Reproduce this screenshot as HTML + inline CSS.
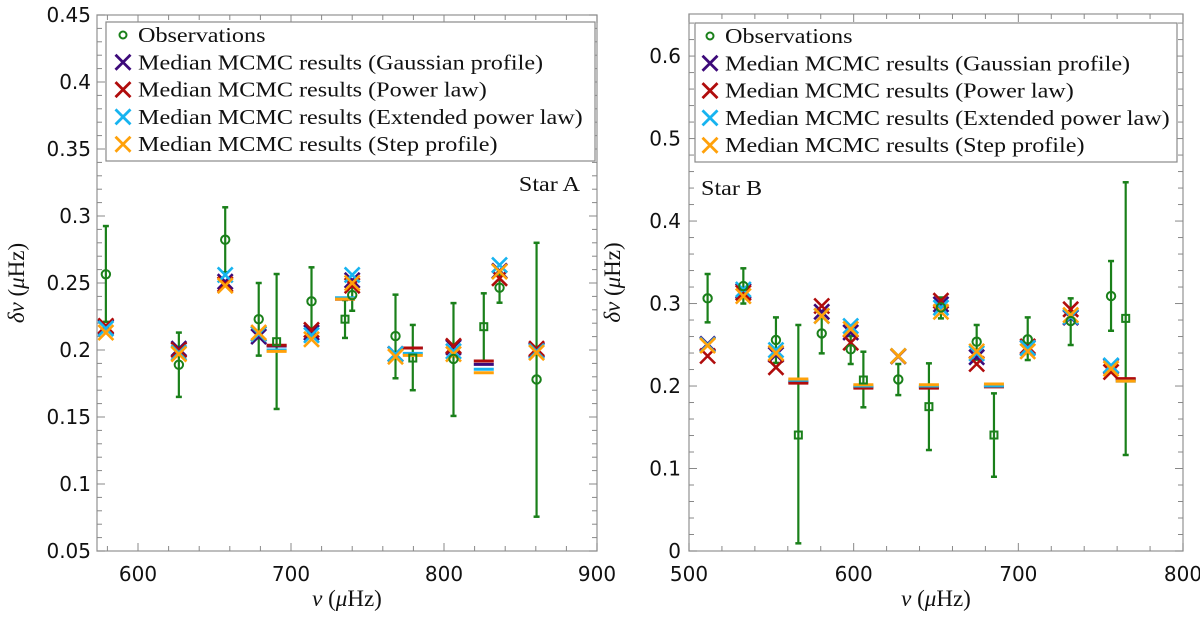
<!DOCTYPE html>
<html><head><meta charset="utf-8"><style>
html,body{margin:0;padding:0;background:#fff;}
svg{display:block;}
</style></head><body>
<svg id="chart" width="1200" height="617" xmlns="http://www.w3.org/2000/svg"></svg>
<script>
// ---------- Star A data ----------
const aObsX=[579,626.7,657,678.9,713.4,740,768.3,806.2,836.3,860.5];
const aObsY=[0.2565,0.189,0.2823,0.223,0.2363,0.241,0.2104,0.1933,0.2465,0.178];
const aObsHi=[0.2925,0.213,0.3065,0.250,0.2617,0.2517,0.2413,0.235,0.258,0.280];
const aObsLo=[0.221,0.165,0.258,0.1958,0.210,0.2293,0.1789,0.1508,0.2353,0.0756];
const aGauss=[0.217,0.201,0.251,0.210,0.213,0.252,0.197,0.202,0.259,0.200];
const aPower=[0.218,0.200,0.249,0.212,0.215,0.248,0.197,0.203,0.2535,0.201];
const aExt=[0.216,0.198,0.256,0.212,0.211,0.256,0.197,0.199,0.2634,0.199];
const aStep=[0.213,0.197,0.248,0.213,0.208,0.250,0.195,0.197,0.2585,0.198];
const aSqX=[690.6,735.3,779.6,826];
const aSqY=[0.2062,0.223,0.194,0.2174];
const aSqHi=[0.2567,0.2373,0.2187,0.2423];
const aSqLo=[0.156,0.209,0.170,0.192];
const aSqGauss=[0.203,0.238,0.2015,0.1893];
const aSqPower=[0.2035,0.238,0.2015,0.1918];
const aSqExt=[0.200,0.239,0.1975,0.1856];
const aSqStep=[0.199,0.238,0.196,0.183];
const aXTicks=[600,700,800,900];
const aYTicks=[0.05,0.1,0.15,0.2,0.25,0.3,0.35,0.4,0.45];
// ---------- Star B data ----------
const bObsX=[511.3,533,552.8,580.6,598.2,627.1,653,674.7,705.7,731.8,756.3];
const bObsY=[0.3063,0.3212,0.2558,0.2638,0.2445,0.208,0.2953,0.2537,0.2566,0.2788,0.309];
const bObsHi=[0.3358,0.3427,0.2832,0.29,0.2606,0.2267,0.3073,0.274,0.2832,0.3063,0.3515];
const bObsLo=[0.2772,0.300,0.228,0.2396,0.2267,0.189,0.282,0.232,0.2315,0.2497,0.267];
const bGauss=[0.251,0.315,0.238,0.290,0.265,0.236,0.299,0.235,0.246,0.283,0.224];
const bPower=[0.2364,0.313,0.2227,0.297,0.2525,0.236,0.3034,0.2267,0.248,0.293,0.217];
const bExt=[0.250,0.317,0.2436,0.285,0.2727,0.2364,0.295,0.2396,0.246,0.284,0.225];
const bStep=[0.249,0.309,0.240,0.285,0.269,0.2364,0.290,0.242,0.242,0.286,0.221];
const bSqX=[566.4,605.9,645.7,685.2,765.2];
const bSqY=[0.1406,0.2073,0.175,0.1406,0.282];
const bSqHi=[0.274,0.2416,0.2275,0.1911,0.447];
const bSqLo=[0.0093,0.1742,0.1224,0.090,0.1164];
const bSqGauss=[0.205,0.199,0.1985,0.200,0.208];
const bSqPower=[0.2035,0.1975,0.1975,0.199,0.209];
const bSqExt=[0.207,0.200,0.200,0.200,0.206];
const bSqStep=[0.2085,0.2015,0.2015,0.2025,0.206];
const bXTicks=[500,600,700,800];
const bYTicks=[0,0.1,0.2,0.3,0.4,0.5,0.6];

const NS='http://www.w3.org/2000/svg';
const svg=document.getElementById('chart');
function mk(tag,attrs,parent){const e=document.createElementNS(NS,tag);for(const k in attrs)e.setAttribute(k,attrs[k]);(parent||svg).appendChild(e);return e;}
const C={obs:'#1a801a',g:'#3d0a7a',p:'#b00c0c',e:'#17b4f0',s:'#ffa10a'};
const WIDEN=1.15;
function widen(t){try{const w=t.getComputedTextLength();if(w>0){t.setAttribute('textLength',(w*WIDEN).toFixed(1));t.setAttribute('lengthAdjust','spacingAndGlyphs');}}catch(e){}}

function panel(cfg){
  const g=mk('g',{});
  
  
  const sx=v=>cfg.x0+(v-cfg.xmin)/(cfg.xmax-cfg.xmin)*(cfg.x1-cfg.x0);
  const sy=v=>cfg.y1-(v-cfg.ymin)/(cfg.ymax-cfg.ymin)*(cfg.y1-cfg.y0);
  const fr=mk('rect',{x:cfg.x0,y:cfg.y0,width:cfg.x1-cfg.x0,height:cfg.y1-cfg.y0,fill:'none',stroke:'#9a9a9a','stroke-width':1.3},g);
  
  
  for(let v=Math.ceil(cfg.xmin/20)*20;v<=cfg.xmax+0.01;v+=20){
    const X=sx(v),len=(v%100===0)?8:5;
    mk('line',{x1:X,x2:X,y1:cfg.y1,y2:cfg.y1-len,stroke:'#888','stroke-width':1},g);
    mk('line',{x1:X,x2:X,y1:cfg.y0,y2:cfg.y0+len,stroke:'#888','stroke-width':1},g);
  }
  const nMinor=Math.round((cfg.ymax-cfg.ymin)/cfg.yminor);
  for(let i=0;i<=nMinor+1;i++){
    const v=cfg.ymin+i*cfg.yminor; if(v>cfg.ymax+1e-9)break;
    const r=Math.abs(v/cfg.ymajor-Math.round(v/cfg.ymajor))<1e-6;
    const Y=sy(v),len=r?8:5;
    mk('line',{x1:cfg.x0,x2:cfg.x0+len,y1:Y,y2:Y,stroke:'#888','stroke-width':1},g);
    mk('line',{x1:cfg.x1,x2:cfg.x1-len,y1:Y,y2:Y,stroke:'#888','stroke-width':1},g);
  }
  cfg.xticks.forEach(v=>{
    const t=mk('text',{x:sx(v),y:cfg.y1+30,'text-anchor':'middle','font-family':'DejaVu Sans, Liberation Sans, sans-serif','font-size':20,fill:'#111'},g);
    t.textContent=v;
    
    
  });
  cfg.yticks.forEach(v=>{
    const t=mk('text',{x:cfg.ylabX,y:sy(v)+7,'text-anchor':'end','font-family':'DejaVu Sans, Liberation Sans, sans-serif','font-size':20,fill:'#111'},g);
    t.textContent=String(v);
    
    
  });
  const xt=mk('text',{x:(cfg.x0+cfg.x1)/2,y:606,'text-anchor':'middle','font-family':'Liberation Serif, serif','font-size':23,fill:'#111'},g);
  xt.innerHTML='<tspan font-style="italic">ν</tspan> (<tspan font-style="italic">μ</tspan>Hz)';
  
  
  const yt=mk('text',{x:0,y:0,transform:`translate(${cfg.ytitleX},${(cfg.y0+cfg.y1)/2}) rotate(-90)`,'text-anchor':'middle','font-family':'Liberation Serif, serif','font-size':23,fill:'#111'},g);
  yt.innerHTML='<tspan font-style="italic">δν</tspan> (<tspan font-style="italic">μ</tspan>Hz)';
  
  

  function ebar(x,lo,hi){
    const X=sx(x);
    mk('line',{x1:X,x2:X,y1:sy(lo),y2:sy(hi),stroke:C.obs,'stroke-width':2.2},g);
    mk('line',{x1:X-3,x2:X+3,y1:sy(lo),y2:sy(lo),stroke:C.obs,'stroke-width':2.5},g);
    mk('line',{x1:X-3,x2:X+3,y1:sy(hi),y2:sy(hi),stroke:C.obs,'stroke-width':2.5},g);
  }
  cfg.ox.forEach((x,i)=>ebar(x,cfg.olo[i],cfg.ohi[i]));
  cfg.qx.forEach((x,i)=>ebar(x,cfg.qlo[i],cfg.qhi[i]));
  const series=[['g',cfg.mg,cfg.qg],['p',cfg.mp,cfg.qp],['e',cfg.me,cfg.qe],['s',cfg.ms,cfg.qs]];
  series.forEach(([k,vals,qvals])=>{
    vals.forEach((v,i)=>{
      const X=sx(cfg.ox[i]),Y=sy(v),d=7.5;
      const p=mk('path',{d:`M${X-d},${Y-d}L${X+d},${Y+d}M${X-d},${Y+d}L${X+d},${Y-d}`,stroke:C[k],'stroke-width':2.6,fill:'none'},g);
      
      
    });
    qvals.forEach((v,i)=>{
      const X=sx(cfg.qx[i]),Y=sy(v);
      const p=mk('line',{x1:X-10,x2:X+10,y1:Y,y2:Y,stroke:C[k],'stroke-width':3},g);
      
      
    });
  });
  cfg.ox.forEach((x,i)=>{
    const c=mk('circle',{cx:sx(x),cy:sy(cfg.oy[i]),r:4.2,fill:'none',stroke:C.obs,'stroke-width':2},g);
    
    
  });
  cfg.qx.forEach((x,i)=>{
    const c=mk('rect',{x:sx(x)-3.5,y:sy(cfg.qy[i])-3.5,width:7,height:7,fill:'none',stroke:C.obs,'stroke-width':2},g);
    
    
  });
  const L=cfg.leg;
  const lg=mk('g',{},g);
  
  
  mk('rect',{x:L.x,y:L.y,width:L.w,height:L.h,fill:'#fff',stroke:'#8a8a8a','stroke-width':1.2},lg);
  const labels=['Observations','Median MCMC results (Gaussian profile)','Median MCMC results (Power law)','Median MCMC results (Extended power law)','Median MCMC results (Step profile)'];
  const keys=['o','g','p','e','s'];
  labels.forEach((lab,i)=>{
    const yy=L.y+13+i*27.3;
    if(keys[i]==='o') mk('circle',{cx:L.mx,cy:yy,r:3.5,fill:'none',stroke:C.obs,'stroke-width':2},lg);
    else {const d=7.5;mk('path',{d:`M${L.mx-d},${yy-d}L${L.mx+d},${yy+d}M${L.mx-d},${yy+d}L${L.mx+d},${yy-d}`,stroke:C[keys[i]],'stroke-width':2.8,fill:'none'},lg);}
    const t=mk('text',{x:L.tx,y:yy+7,'font-family':'Liberation Serif, serif','font-size':21,fill:'#111'},lg);
    t.textContent=lab;
    
    
    widen(t);
  });
  const st=mk('text',{x:cfg.star.x,y:cfg.star.y,'text-anchor':cfg.star.anchor,'font-family':'Liberation Serif, serif','font-size':21,fill:'#111'},g);
  st.textContent=cfg.star.text;
  
  
  widen(st);
}

panel({name:'panel-star-a',x0:97,x1:597,y0:15,y1:551,xmin:573.2,xmax:900,ymin:0.05,ymax:0.45,ymajor:0.05,yminor:0.01,
  xticks:aXTicks,yticks:aYTicks,ylabX:91,ytitleX:24,
  ox:aObsX,oy:aObsY,ohi:aObsHi,olo:aObsLo,mg:aGauss,mp:aPower,me:aExt,ms:aStep,
  qx:aSqX,qy:aSqY,qhi:aSqHi,qlo:aSqLo,qg:aSqGauss,qp:aSqPower,qe:aSqExt,qs:aSqStep,
  leg:{x:106,y:22,w:489,h:139,mx:123,tx:138},star:{x:580,y:191,anchor:'end',text:'Star A'}});
panel({name:'panel-star-b',x0:689,x1:1183,y0:14,y1:551,xmin:500,xmax:800,ymin:0,ymax:0.651,ymajor:0.1,yminor:0.02,
  xticks:bXTicks,yticks:bYTicks,ylabX:681,ytitleX:620,
  ox:bObsX,oy:bObsY,ohi:bObsHi,olo:bObsLo,mg:bGauss,mp:bPower,me:bExt,ms:bStep,
  qx:bSqX,qy:bSqY,qhi:bSqHi,qlo:bSqLo,qg:bSqGauss,qp:bSqPower,qe:bSqExt,qs:bSqStep,
  leg:{x:695,y:23,w:482,h:139,mx:710,tx:725},star:{x:701,y:195,anchor:'start',text:'Star B'}});
</script>
</body></html>
